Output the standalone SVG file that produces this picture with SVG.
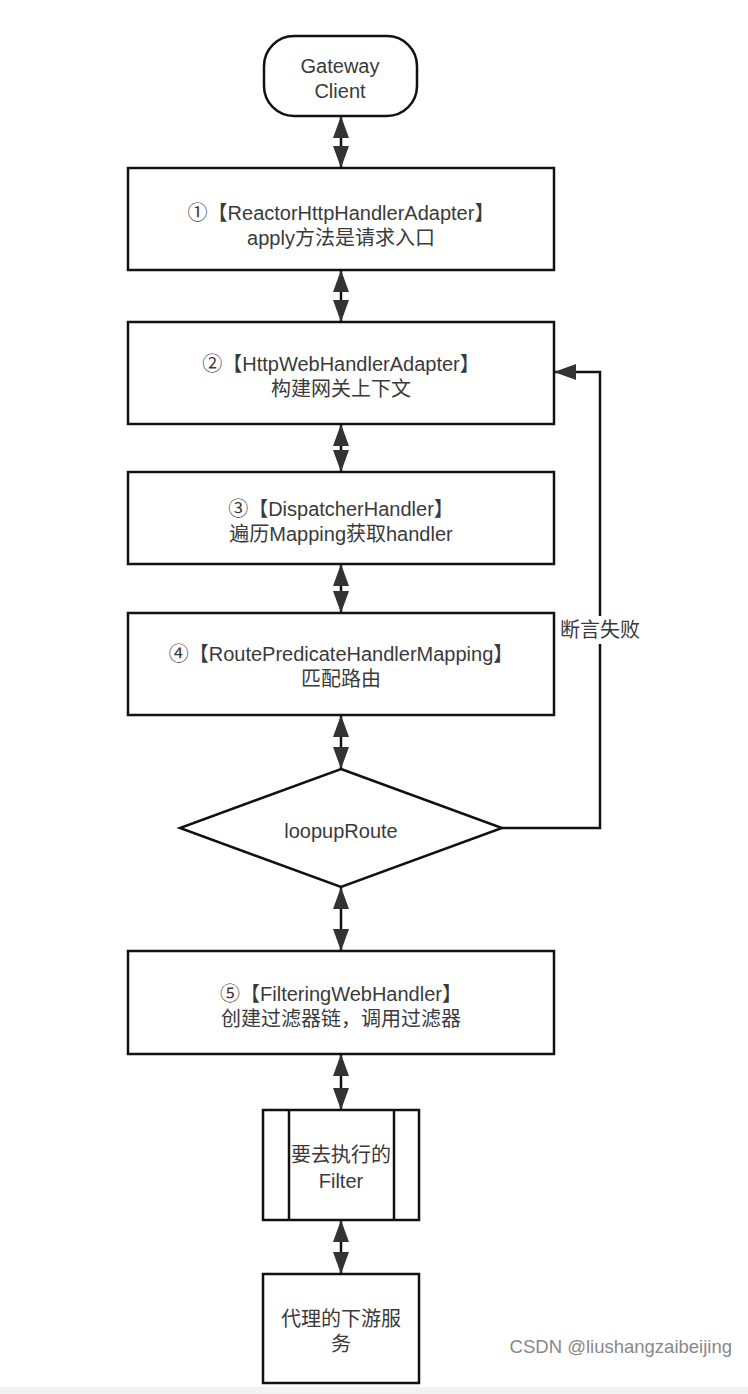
<svg xmlns="http://www.w3.org/2000/svg" width="748" height="1394" viewBox="0 0 748 1394">
<style>
.n{fill:#fff;stroke:#111;stroke-width:2.5}
.t{font-family:"Liberation Sans","Noto Sans CJK SC",sans-serif;font-size:20px;fill:#3a3a3a;text-anchor:middle}
.c{fill:none;stroke:#111;stroke-width:2.5}
.wm{font-family:"Liberation Sans","Noto Sans CJK SC",sans-serif;font-size:18.5px;fill:#888;text-anchor:end}
</style>
<defs>
<marker id="ah" viewBox="0 0 22 16" refX="22" refY="8" markerWidth="22" markerHeight="16" markerUnits="userSpaceOnUse" orient="auto-start-reverse">
<path d="M0,0 L22,8 L0,16 z" fill="#333"/>
</marker>
</defs>
<rect x="0" y="0" width="748" height="1394" fill="#fff"/>
<rect x="0" y="1387" width="748" height="7" fill="#f2f2f2"/>
<g id="connectors">
<line class="c" x1="341" y1="116" x2="341" y2="168" marker-start="url(#ah)" marker-end="url(#ah)"/>
<line class="c" x1="341" y1="270" x2="341" y2="322" marker-start="url(#ah)" marker-end="url(#ah)"/>
<line class="c" x1="341" y1="424" x2="341" y2="472" marker-start="url(#ah)" marker-end="url(#ah)"/>
<line class="c" x1="341" y1="564" x2="341" y2="613" marker-start="url(#ah)" marker-end="url(#ah)"/>
<line class="c" x1="341" y1="715" x2="341" y2="769" marker-start="url(#ah)" marker-end="url(#ah)"/>
<line class="c" x1="341" y1="887" x2="341" y2="951" marker-start="url(#ah)" marker-end="url(#ah)"/>
<line class="c" x1="341" y1="1054" x2="341" y2="1110" marker-start="url(#ah)" marker-end="url(#ah)"/>
<line class="c" x1="341" y1="1220" x2="341" y2="1274" marker-start="url(#ah)" marker-end="url(#ah)"/>
<path class="c" d="M502,828 H600 V372 H554" marker-end="url(#ah)"/>
<rect x="556" y="616" width="88" height="28" fill="#fff"/>
<text class="t" x="600" y="637">断言失败</text>
</g>
<g id="client">
<rect class="n" x="264" y="36" width="153" height="80" rx="30" ry="30"/>
<text class="t" x="340" y="73">Gateway</text>
<text class="t" x="340" y="98">Client</text>
</g>
<g id="n1">
<rect class="n" x="128" y="168" width="426" height="102"/>
<text class="t" x="341" y="220">①【ReactorHttpHandlerAdapter】</text>
<text class="t" x="341" y="245">apply方法是请求入口</text>
</g>
<g id="n2">
<rect class="n" x="128" y="322" width="426" height="102"/>
<text class="t" x="341" y="371">②【HttpWebHandlerAdapter】</text>
<text class="t" x="341" y="396">构建网关上下文</text>
</g>
<g id="n3">
<rect class="n" x="128" y="472" width="426" height="92"/>
<text class="t" x="341" y="516">③【DispatcherHandler】</text>
<text class="t" x="341" y="541">遍历Mapping获取handler</text>
</g>
<g id="n4">
<rect class="n" x="128" y="613" width="426" height="102"/>
<text class="t" x="341" y="661">④【RoutePredicateHandlerMapping】</text>
<text class="t" x="341" y="686">匹配路由</text>
</g>
<g id="decision">
<polygon class="n" points="341,769 502,828 341,887 180,828"/>
<text class="t" x="341" y="838">loopupRoute</text>
</g>
<g id="n5">
<rect class="n" x="128" y="951" width="426" height="103"/>
<text class="t" x="341" y="1001">⑤【FilteringWebHandler】</text>
<text class="t" x="341" y="1026">创建过滤器链，调用过滤器</text>
</g>
<g id="filter">
<rect class="n" x="263" y="1110" width="156" height="110"/>
<line class="c" x1="289" y1="1110" x2="289" y2="1220"/>
<line class="c" x1="394" y1="1110" x2="394" y2="1220"/>
<text class="t" x="341" y="1162">要去执行的</text>
<text class="t" x="341" y="1188">Filter</text>
</g>
<g id="downstream">
<rect class="n" x="263" y="1274" width="156" height="109"/>
<text class="t" x="341" y="1326">代理的下游服</text>
<text class="t" x="341" y="1351">务</text>
</g>
<text class="wm" x="732" y="1353">CSDN @liushangzaibeijing</text>
</svg>
